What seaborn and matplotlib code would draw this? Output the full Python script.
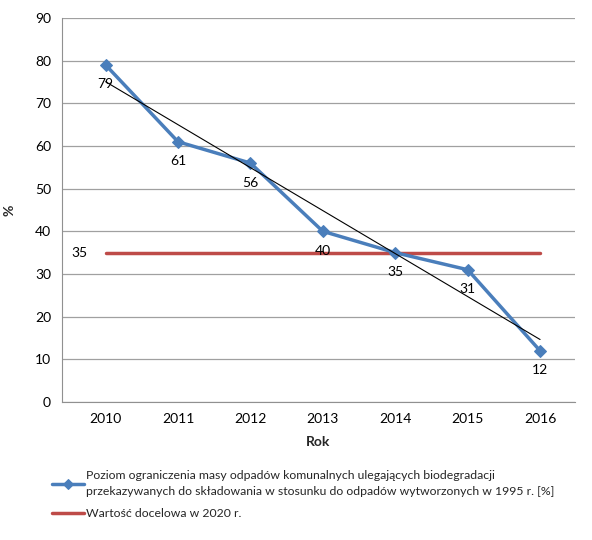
import numpy as np
import pandas as pd
import matplotlib
matplotlib.use("Agg")
import matplotlib.pyplot as plt
import seaborn as sns

# Data
years = ["2010", "2011", "2012", "2013", "2014", "2015", "2016"]
poziom = [79, 61, 56, 40, 35, 31, 12]
docelowa = [35, 35, 35, 35, 35, 35, 35]
ticks_y = [0, 10, 20, 30, 40, 50, 60, 70, 80, 90]

label_poziom = ("Poziom ograniczenia masy odpadów komunalnych ulegających biodegradacji\n"
                "przekazywanych do składowania w stosunku do odpadów wytworzonych w 1995 r. [%]")
label_docelowa = "Wartość docelowa w 2020 r."

df = pd.DataFrame({"idx": np.arange(len(years)), "Rok": years,
                   "poziom": poziom, "docelowa": docelowa})

sns.set_style("white")
plt.rcParams["font.family"] = ["Lato", "DejaVu Sans"]

fig = plt.figure(figsize=(5.92, 5.40), dpi=100)
ax = fig.add_axes([0.105, 0.2556, 0.866, 0.711])

blue = "#4A7EBB"
red = "#BE4B48"

sns.lineplot(data=df, x="idx", y="docelowa", color=red, linewidth=2.5,
             ax=ax, label=label_docelowa, zorder=2)
sns.lineplot(data=df, x="idx", y="poziom", color=blue, linewidth=2.5,
             marker="D", markersize=6, markeredgecolor=blue, ax=ax,
             label=label_poziom, zorder=3)
# linear trend line (Excel-style trendline)
sns.regplot(data=df, x="idx", y="poziom", scatter=False, ci=None,
            line_kws={"color": "black", "linewidth": 0.8, "zorder": 4}, ax=ax,
            truncate=True)

# data labels
for i, v in enumerate(poziom):
    ax.annotate(str(v), (i, v), xytext=(0, -14), textcoords="offset points",
                ha="center", va="center", fontsize=10, color="black")
ax.annotate(str(docelowa[0]), (0, docelowa[0]), xytext=(-13, 0),
            textcoords="offset points", ha="right", va="center",
            fontsize=10, color="black")

ax.set_xlim(-0.6, 6.48)
ax.set_ylim(0, 90)
ax.set_yticks(ticks_y)
ax.set_xticks(range(len(years)))
ax.set_xticklabels(years)
ax.tick_params(axis="both", labelsize=10, colors="black", length=0, pad=8)
ax.yaxis.grid(True, color="#A0A0A0", linewidth=0.9)
ax.xaxis.grid(False)
for s in ["top", "right"]:
    ax.spines[s].set_visible(False)
for s in ["left", "bottom"]:
    ax.spines[s].set_color("#909090")
ax.set_xlabel("Rok", fontsize=10, fontweight="bold", labelpad=8)
ax.set_ylabel("%", fontsize=10, fontweight="bold", labelpad=14)

handles, labels = ax.get_legend_handles_labels()
ax.get_legend().remove()
order = [labels.index(label_poziom), labels.index(label_docelowa)]
leg = fig.legend([handles[i] for i in order], [labels[i] for i in order],
                 loc="upper left", bbox_to_anchor=(0.07, 0.15), frameon=False,
                 handlelength=2.6, handletextpad=0.15, labelspacing=0.9,
                 markerscale=0.8, prop={"size": 8.8})
for t in leg.get_texts():
    t.set_linespacing(1.55)

fig.savefig("out.png", dpi=100)
